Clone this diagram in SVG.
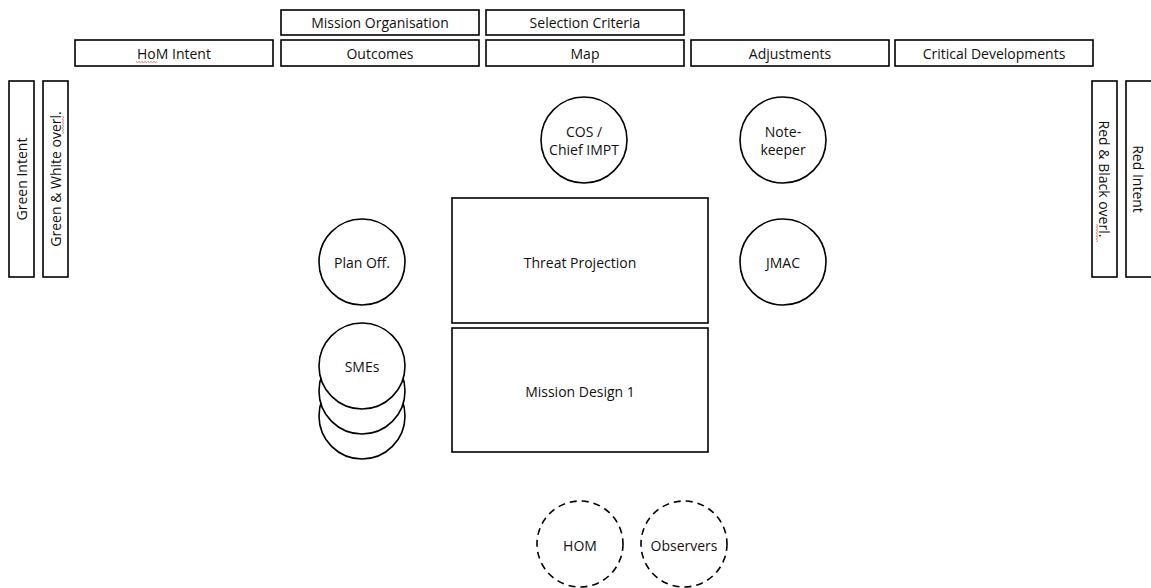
<svg xmlns="http://www.w3.org/2000/svg" width="1151" height="588" viewBox="0 0 1151 588">
  <style>
    .box { fill: #fff; stroke: #000; stroke-width: 1.6; }
    .ring { fill: #fff; stroke: #000; stroke-width: 1.6; }
    .dash { fill: none; stroke: #000; stroke-width: 1.6; stroke-dasharray: 7 5; }
    .lbl { font-family: "Open Sans", "Liberation Sans", sans-serif; font-size: 14px; fill: #111; text-anchor: middle; dominant-baseline: central; }
    .spell { fill: none; stroke: #e05050; stroke-width: 0.8; }
  </style>
  <rect width="1151" height="588" fill="#fff"/>

  <!-- top header boxes -->
  <g id="mission-organisation"><rect class="box" x="281" y="10" width="198" height="25"/><text class="lbl" x="380" y="22.5">Mission Organisation</text></g>
  <g id="selection-criteria"><rect class="box" x="486" y="10" width="198" height="25"/><text class="lbl" x="585" y="22.5">Selection Criteria</text></g>
  <g id="hom-intent"><rect class="box" x="75" y="40" width="198" height="26"/><text class="lbl" x="174" y="53">HoM Intent</text>
    <path class="spell" d="M136 61.5 l1.5 1 l1.5 -1 l1.5 1 l1.5 -1 l1.5 1 l1.5 -1 l1.5 1 l1.5 -1 l1.5 1 l1.5 -1 l1.5 1 l1.5 -1 l1.5 1 l1.5 -1"/></g>
  <g id="outcomes"><rect class="box" x="281" y="40" width="198" height="26"/><text class="lbl" x="380" y="53">Outcomes</text></g>
  <g id="map"><rect class="box" x="486" y="40" width="198" height="26"/><text class="lbl" x="585" y="53">Map</text></g>
  <g id="adjustments"><rect class="box" x="691" y="40" width="198" height="26"/><text class="lbl" x="790" y="53">Adjustments</text></g>
  <g id="critical-developments"><rect class="box" x="895" y="40" width="198" height="26"/><text class="lbl" x="994" y="53">Critical Developments</text></g>

  <!-- side bars -->
  <g id="green-intent"><rect class="box" x="9" y="81" width="25" height="196"/><text class="lbl" transform="translate(21.5 179) rotate(-90)">Green Intent</text></g>
  <g id="green-white-overl"><rect class="box" x="43" y="81" width="25" height="196"/><text class="lbl" transform="translate(55.5 179) rotate(-90)">Green &amp; White overl.</text>
    <path class="spell" d="M62.5 134 l1 -1.5 l-1 -1.5 l1 -1.5 l-1 -1.5 l1 -1.5 l-1 -1.5 l1 -1.5 l-1 -1.5 l1 -1.5 l-1 -1.5 l1 -1.5 l-1 -1.5"/></g>
  <g id="red-black-overl"><rect class="box" x="1092" y="81" width="25" height="196"/><text class="lbl" transform="translate(1104.5 179) rotate(90)">Red &amp; Black overl.</text>
    <path class="spell" d="M1096.5 224 l1 1.5 l-1 1.5 l1 1.5 l-1 1.5 l1 1.5 l-1 1.5 l1 1.5 l-1 1.5 l1 1.5 l-1 1.5 l1 1.5 l-1 1.5"/></g>
  <g id="red-intent"><rect class="box" x="1126" y="81" width="26" height="196"/><text class="lbl" transform="translate(1138.5 179) rotate(90)">Red Intent</text></g>

  <!-- role circles -->
  <g id="cos"><circle class="ring" cx="584" cy="140" r="43"/><text class="lbl" x="584" y="131">COS /</text><text class="lbl" x="584" y="149">Chief IMPT</text></g>
  <g id="notekeeper"><circle class="ring" cx="783" cy="140" r="43"/><text class="lbl" x="783" y="131">Note-</text><text class="lbl" x="783" y="149">keeper</text></g>
  <g id="plan-off"><circle class="ring" cx="362" cy="262" r="43"/><text class="lbl" x="362" y="262">Plan Off.</text></g>
  <g id="jmac"><circle class="ring" cx="783" cy="262" r="43"/><text class="lbl" x="783" y="262">JMAC</text></g>

  <!-- stacked subject matter experts -->
  <g id="smes">
    <circle class="ring" cx="362" cy="416" r="43"/>
    <circle class="ring" cx="362" cy="391" r="43"/>
    <circle class="ring" cx="362" cy="366" r="43"/>
    <text class="lbl" x="362" y="366">SMEs</text>
  </g>

  <!-- central tables -->
  <g id="threat-projection"><rect class="box" x="452" y="198" width="256" height="125"/><text class="lbl" x="580" y="262">Threat Projection</text></g>
  <g id="mission-design"><rect class="box" x="452" y="328" width="256" height="124"/><text class="lbl" x="580" y="391">Mission Design 1</text></g>

  <!-- optional attendees -->
  <g id="hom"><circle class="dash" cx="580" cy="544" r="43"/><text class="lbl" x="580" y="545">HOM</text></g>
  <g id="observers"><circle class="dash" cx="684" cy="544" r="43"/><text class="lbl" x="684" y="545">Observers</text></g>

  <g id="connectors"></g>
</svg>
